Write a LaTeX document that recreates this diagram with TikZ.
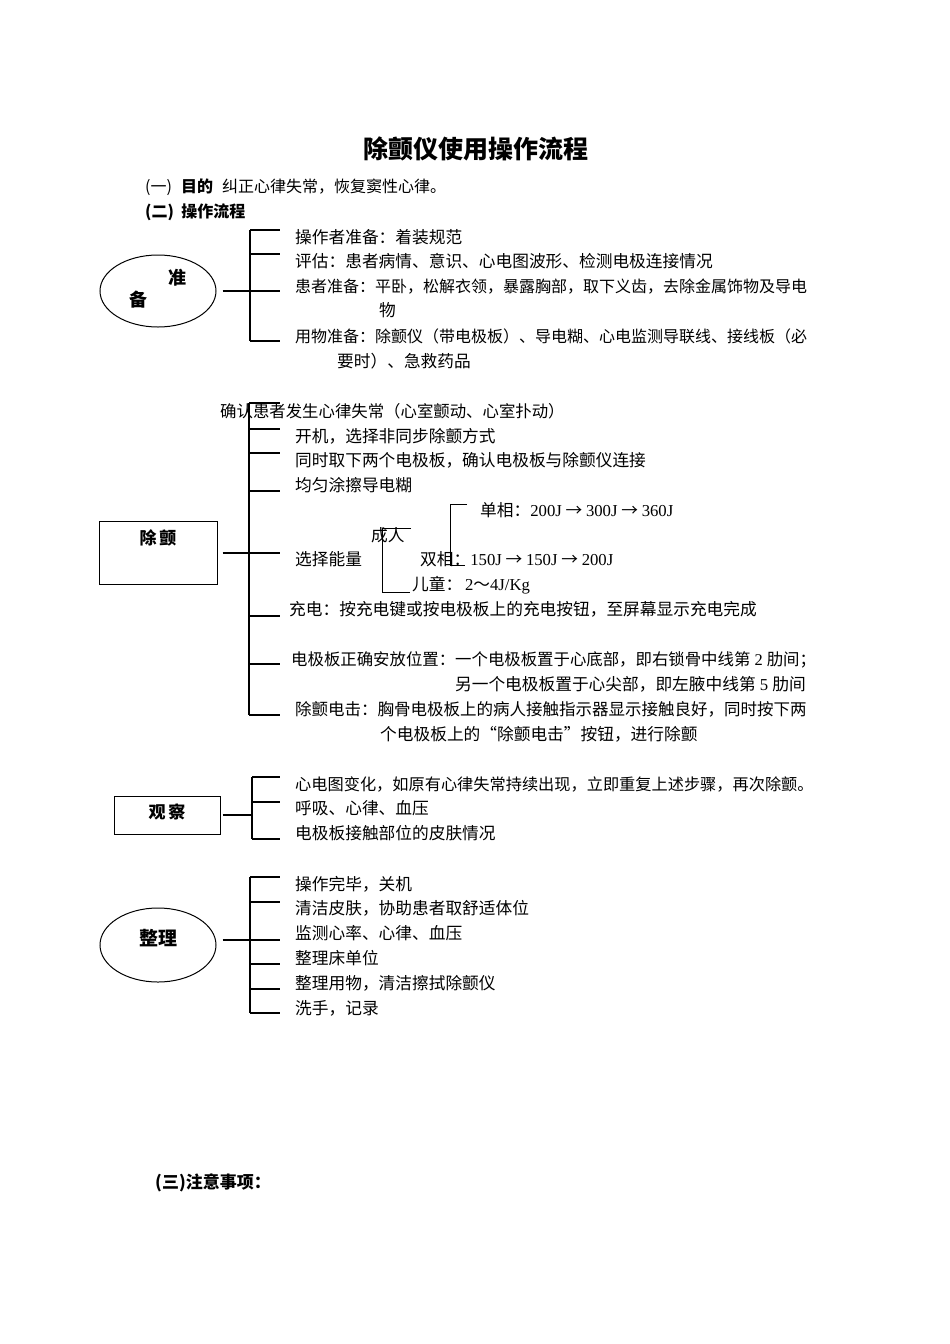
\documentclass[tikz,border=0pt]{standalone}
\usepackage{fontspec}
\setmainfont{Noto Sans CJK SC}
\newfontfamily\lt{Liberation Serif}
\usetikzlibrary{shapes.geometric}
\begin{document}
\begin{tikzpicture}[x=1pt,y=-1pt,
  txt/.style={anchor=base west, inner sep=0pt, font=\fontsize{16.7}{16.7}\selectfont},
  narrow/.style={font=\fontsize{16}{16}\selectfont},
  btxt/.style={anchor=base west, inner sep=0pt, font=\fontsize{16}{16}\selectfont\bfseries},
  lbl/.style={inner sep=0pt, font=\fontsize{18}{18}\selectfont\bfseries},
  conn/.style={draw=black, line width=1.1pt},
  frame/.style={draw=black, line width=1pt}]
\useasboundingbox[fill=white] (0,0) rectangle (950,1344);

% ---------- title and headings ----------
\node[inner sep=0pt, font=\fontsize{25}{25}\selectfont\bfseries] (title) at (476,149) {除颤仪使用操作流程};
\node[txt, narrow] (s1a) at (145,192) {(一)};
\node[btxt] (s1b) at (181,192) {目的};
\node[txt, narrow] (s1c) at (222,192) {纠正心律失常，恢复窦性心律。};
\node[btxt] (s2) at (145,217) {(二)\ \ 操作流程};

% ---------- 准备 ----------
\node[frame, ellipse, minimum width=116pt, minimum height=72pt] (zb) at (158,291) {};
\node[lbl] (zb1) at (177,278) {准};
\node[lbl] (zb2) at (138,300) {备};
\coordinate (zbT) at (250,230);
\coordinate (zbM) at (250,291);
\coordinate (zbB) at (250,341);
\coordinate (zbE1) at (280,230);
\coordinate (zbE2) at (280,254);
\coordinate (zbE3) at (280,291);
\coordinate (zbE4) at (280,341);
\coordinate (zb2a) at (250,254);
\draw[conn] ([xshift=6pt]zb.east |- zbE3) -- (zbE3);
\draw[conn] (zbT) -- (zbB);
\draw[conn] (zbT) -- (zbE1);
\draw[conn] (zb2a) -- (zbE2);
\draw[conn] (zbB) -- (zbE4);
\node[txt] (zt1) at (295,243) {操作者准备：着装规范};
\node[txt] (zt2) at (295,267) {评估：患者病情、意识、心电图波形、检测电极连接情况};
\node[txt, narrow] (zt3) at (295,292) {患者准备：平卧，松解衣领，暴露胸部，取下义齿，去除金属饰物及导电};
\node[txt] (zt3b) at (379,316) {物};
\node[txt, narrow] (zt4) at (295,342) {用物准备：除颤仪（带电极板）、导电糊、心电监测导联线、接线板（必};
\node[txt] (zt4b) at (337,367) {要时）、急救药品};

% ---------- 除颤 ----------
\node[frame, rectangle, minimum width=118pt, minimum height=63pt] (cc) at (158,553) {};
\node[lbl, font=\fontsize{17}{17}\selectfont\bfseries] (cct) at (158,538) {除\,颤};
\coordinate (ccT) at (249,403);
\coordinate (ccB) at (249,715);
\coordinate (cc1) at (249,429);
\coordinate (cc2) at (249,453);
\coordinate (cc3) at (249,491);
\coordinate (ccM) at (249,553);
\coordinate (cc5) at (249,616);
\coordinate (cc6) at (249,664);
\coordinate (ccE0) at (280,403);
\coordinate (ccE1) at (280,429);
\coordinate (ccE2) at (280,453);
\coordinate (ccE3) at (280,491);
\coordinate (ccE4) at (280,553);
\coordinate (ccE5) at (280,616);
\coordinate (ccE6) at (280,664);
\coordinate (ccE7) at (280,715);
\draw[conn] ([xshift=5pt]cc.east |- ccE4) -- (ccE4);
\draw[conn] (ccT) -- (ccB);
\draw[conn] (ccT) -- (ccE0);
\draw[conn] (cc1) -- (ccE1);
\draw[conn] (cc2) -- (ccE2);
\draw[conn] (cc3) -- (ccE3);
\draw[conn] (cc5) -- (ccE5);
\draw[conn] (cc6) -- (ccE6);
\draw[conn] (ccB) -- (ccE7);
\node[txt, font=\fontsize{16.4}{16.4}\selectfont] (ct0) at (220,417) {确认患者发生心律失常（心室颤动、心室扑动）};
\node[txt] (ct1) at (295,442) {开机，选择非同步除颤方式};
\node[txt] (ct2) at (295,466) {同时取下两个电极板，确认电极板与除颤仪连接};
\node[txt] (ct3) at (295,491) {均匀涂擦导电糊};
\node[txt] (ct4) at (295,565) {选择能量};
% energy sub-branches
\node[txt] (cr) at (371,541) {成人};
\coordinate (crT) at (382,528);
\coordinate (crTE) at (411,528);
\coordinate (crB) at (382,592);
\coordinate (crBE) at (410,592);
\draw[conn, line width=1pt] (crTE) -- (crT) -- (crB) -- (crBE);
\coordinate (adT) at (450,504);
\coordinate (adTE) at (467,504);
\coordinate (adB) at (450,565);
\coordinate (adBE) at (465,565);
\draw[conn, line width=1pt] (adTE) -- (adT) -- (adB) -- (adBE);
\node[txt] (dx) at (480,516) {单相：{\lt 200J} → {\lt 300J} → {\lt 360J}};
\node[txt] (sx) at (420,565) {双相：{\lt 150J} → {\lt 150J} → {\lt 200J}};
\node[txt] (et) at (412,590) {儿童：\,{\lt 2}～{\lt 4J/Kg}};
\node[txt] (ct5) at (289,615) {充电：按充电键或按电极板上的充电按钮，至屏幕显示充电完成};
\node[txt, font=\fontsize{16.4}{16.4}\selectfont] (ct6) at (291,665) {电极板正确安放位置：一个电极板置于心底部，即右锁骨中线第{\lt\ 2\ }肋间；};
\node[txt, anchor=base east] (ct6b) at (806,690) {另一个电极板置于心尖部，即左腋中线第{\lt\ 5\ }肋间};
\node[txt, font=\fontsize{16.5}{16.5}\selectfont] (ct7) at (295,715) {除颤电击：胸骨电极板上的病人接触指示器显示接触良好，同时按下两};
\node[txt] (ct7b) at (380,740) {个电极板上的“除颤电击”按钮，进行除颤};

% ---------- 观察 ----------
\node[frame, rectangle, minimum width=106pt, minimum height=38pt] (gc) at (167,815) {};
\node[lbl, font=\fontsize{17}{17}\selectfont\bfseries] (gct) at (167,812) {观\,察};
\coordinate (gcT) at (252,777);
\coordinate (gcM) at (252,802);
\coordinate (gcB) at (252,839);
\coordinate (gcJ) at (252,815);
\coordinate (gcE1) at (280,777);
\coordinate (gcE2) at (280,802);
\coordinate (gcE3) at (280,839);
\draw[conn] ([xshift=2pt]gc.east |- gcJ) -- (gcJ);
\draw[conn] (gcT) -- (gcB);
\draw[conn] (gcT) -- (gcE1);
\draw[conn] (gcM) -- (gcE2);
\draw[conn] (gcB) -- (gcE3);
\node[txt, font=\fontsize{16.2}{16.2}\selectfont] (gt1) at (295,790) {心电图变化，如原有心律失常持续出现，立即重复上述步骤，再次除颤。};
\node[txt] (gt2) at (295,814) {呼吸、心律、血压};
\node[txt] (gt3) at (295,839) {电极板接触部位的皮肤情况};

% ---------- 整理 ----------
\node[frame, ellipse, minimum width=116pt, minimum height=74pt] (zl) at (158,945) {};
\node[lbl, font=\fontsize{19}{19}\selectfont\bfseries] (zlt) at (158,938) {整理};
\coordinate (zlT) at (250,877);
\coordinate (zl2) at (250,902);
\coordinate (zl3) at (250,940);
\coordinate (zl4) at (250,964);
\coordinate (zl5) at (250,989);
\coordinate (zlB) at (250,1013);
\coordinate (zlE1) at (280,877);
\coordinate (zlE2) at (280,902);
\coordinate (zlE3) at (280,940);
\coordinate (zlE4) at (280,964);
\coordinate (zlE5) at (280,989);
\coordinate (zlE6) at (280,1013);
\draw[conn] ([xshift=6pt]zl.east |- zlE3) -- (zlE3);
\draw[conn] (zlT) -- (zlB);
\draw[conn] (zlT) -- (zlE1);
\draw[conn] (zl2) -- (zlE2);
\draw[conn] (zl4) -- (zlE4);
\draw[conn] (zl5) -- (zlE5);
\draw[conn] (zlB) -- (zlE6);
\node[txt] (lt1) at (295,890) {操作完毕，关机};
\node[txt] (lt2) at (295,914) {清洁皮肤，协助患者取舒适体位};
\node[txt] (lt3) at (295,939) {监测心率、心律、血压};
\node[txt] (lt4) at (295,964) {整理床单位};
\node[txt] (lt5) at (295,989) {整理用物，清洁擦拭除颤仪};
\node[txt] (lt6) at (295,1014) {洗手，记录};

% ---------- 注意事项 ----------
\node[anchor=base west, inner sep=0pt, font=\fontsize{17}{17}\selectfont\bfseries] (s3) at (155,1188) {(三)注意事项：};
\end{tikzpicture}
\end{document}
